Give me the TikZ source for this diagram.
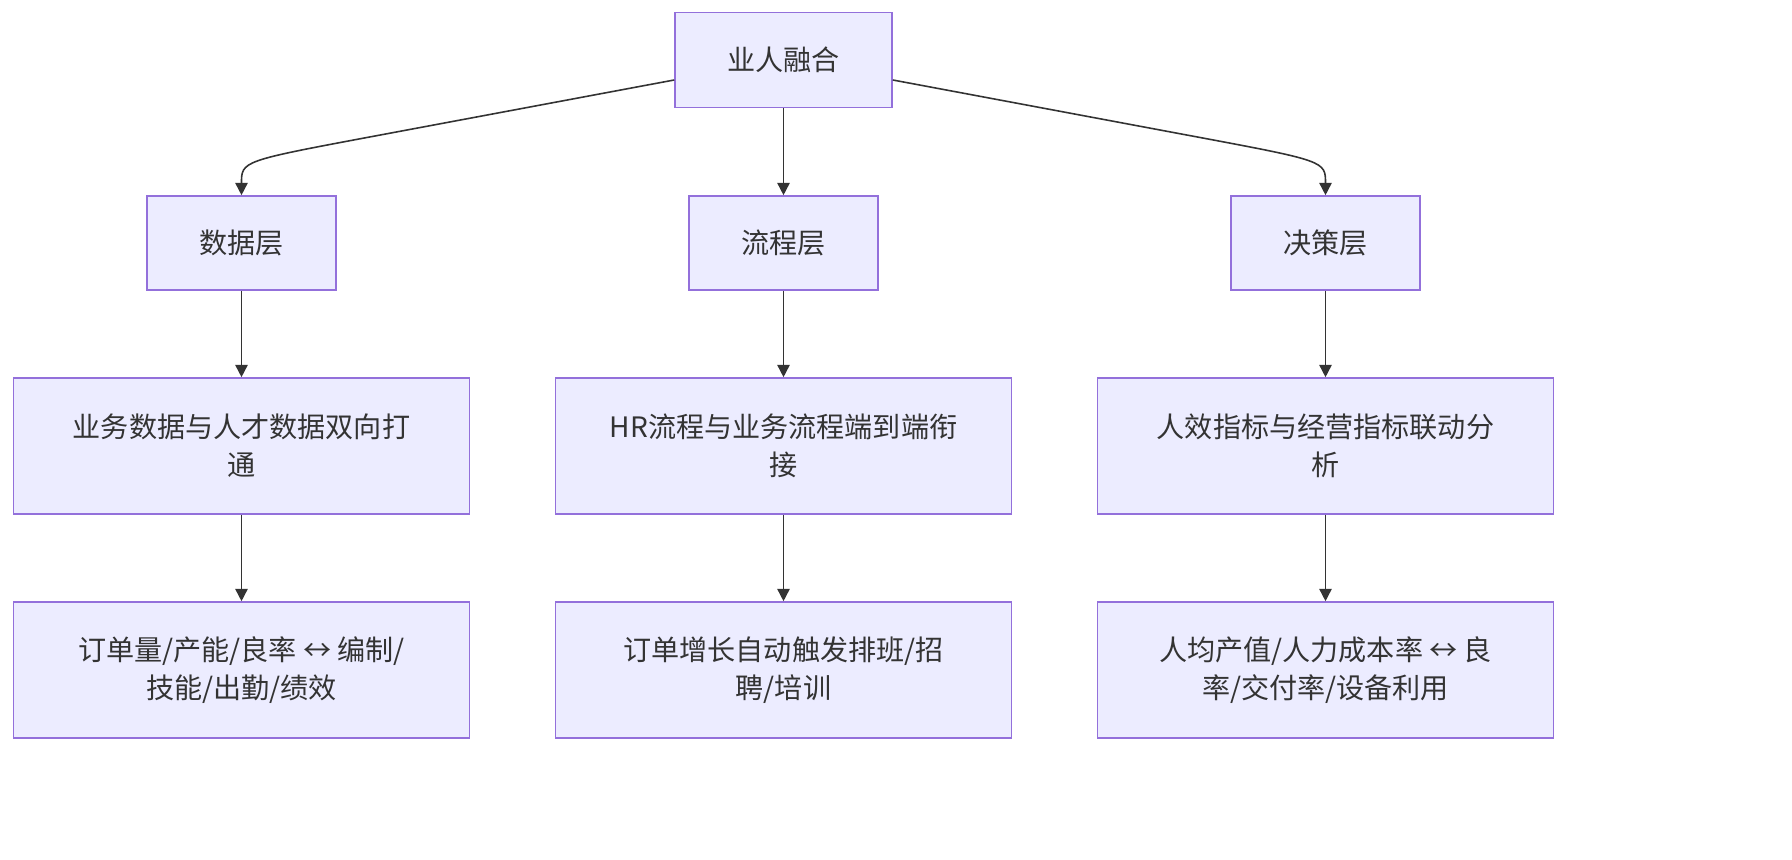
\documentclass[tikz,border=0pt]{standalone}
\usepackage{fontspec}
\setmainfont{Noto Sans CJK SC}
\usetikzlibrary{arrows.meta}
\definecolor{boxfill}{HTML}{ECECFF}
\definecolor{boxline}{HTML}{9370DB}
\definecolor{edge}{HTML}{333333}
\tikzstyle{box} = [rectangle, draw=boxline, fill=boxfill, line width=0.9pt, align=center, font=\fontsize{16}{21.6}\selectfont, text=edge]
\tikzstyle{line} = [draw=edge, line width=0.9pt, -{Triangle[length=7pt,width=7pt]}]

\begin{document}
\begin{tikzpicture}
		\useasboundingbox (0,0) rectangle (35.84,17.2);
		\def\xa{4.83}
		\def\xb{15.67}
		\def\xc{26.51}
		\node[box, minimum width=4.34cm, minimum height=1.9cm] (top) at (\xb, 16.0) {业人融合};
		\node[box, minimum width=3.78cm, minimum height=1.88cm] (data) at (\xa, 12.34) {数据层};
		\node[box, minimum width=3.78cm, minimum height=1.88cm] (flow) at (\xb, 12.34) {流程层};
		\node[box, minimum width=3.78cm, minimum height=1.88cm] (dec) at (\xc, 12.34) {决策层};
		\node[box, minimum width=9.12cm, minimum height=2.72cm] (data1) at (\xa, 8.28) {业务数据与人才数据双向打\\通};
		\node[box, minimum width=9.12cm, minimum height=2.72cm] (flow1) at (\xb, 8.28) {HR流程与业务流程端到端衔\\接};
		\node[box, minimum width=9.12cm, minimum height=2.72cm] (dec1) at (\xc, 8.28) {人效指标与经营指标联动分\\析};
		\node[box, minimum width=9.12cm, minimum height=2.72cm] (data2) at (\xa, 3.8) {订单量/产能/良率 ↔ 编制/\\技能/出勤/绩效};
		\node[box, minimum width=9.12cm, minimum height=2.72cm] (flow2) at (\xb, 3.8) {订单增长自动触发排班/招\\聘/培训};
		\node[box, minimum width=9.12cm, minimum height=2.72cm] (dec2) at (\xc, 3.8) {人均产值/人力成本率 ↔ 良\\率/交付率/设备利用};

		\coordinate (bendA) at (\xa, 13.98);
		\coordinate (bendC) at (\xc, 13.98);
		\coordinate (runA) at (7.5, 14.48);
		\coordinate (runC) at (23.84, 14.48);
		\path [line] ([yshift=-0.4cm]top.west) -- (runA) .. controls (bendA) and (\xa, 13.98) .. (data.north);
		\path [line] ([yshift=-0.4cm]top.east) -- (runC) .. controls (bendC) and (\xc, 13.98) .. (dec.north);
		\path [line] (top) -- (flow);
		\path [line] (data) -- (data1);
		\path [line] (flow) -- (flow1);
		\path [line] (dec) -- (dec1);
		\path [line] (data1) -- (data2);
		\path [line] (flow1) -- (flow2);
		\path [line] (dec1) -- (dec2);
	\end{tikzpicture}
\end{document}
